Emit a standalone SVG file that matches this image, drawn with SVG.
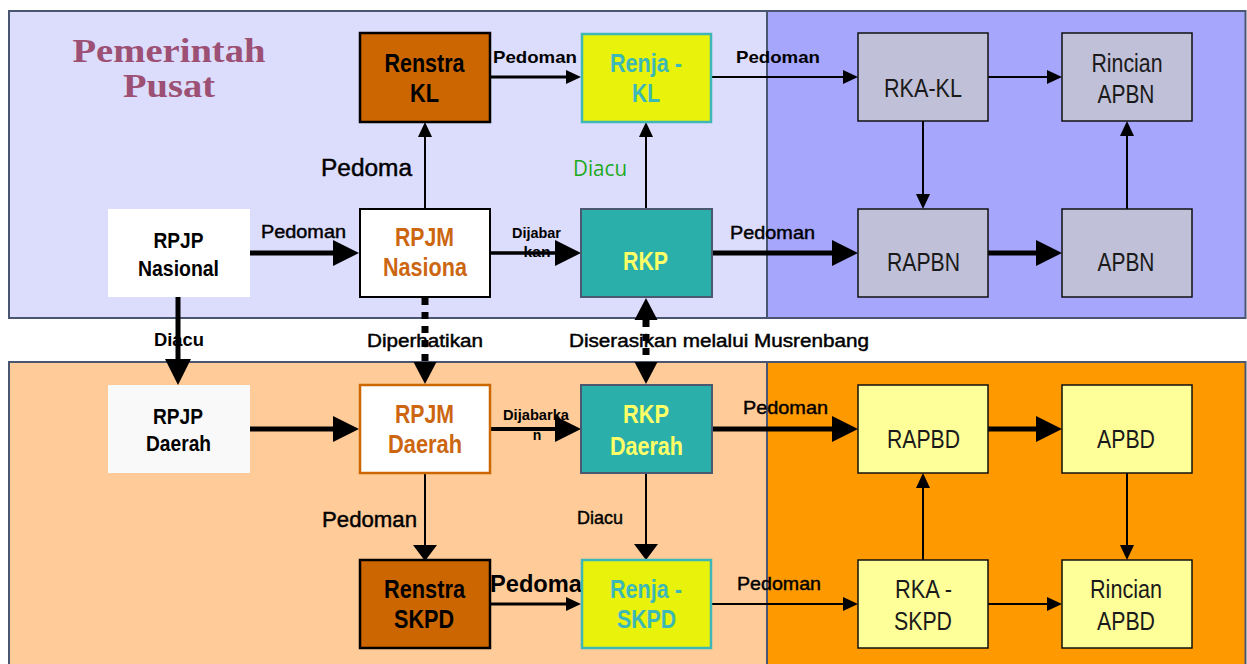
<svg xmlns="http://www.w3.org/2000/svg" width="1247" height="664" viewBox="0 0 1247 664">
<style>
.panel{stroke:#4A5670;stroke-width:2}
.t{font-family:"Liberation Sans",Arial,sans-serif;text-anchor:middle}
.nb{font-size:25px;font-weight:bold}
.nn{font-size:25px;fill:#1a1a1a}
.lb{font-family:"Liberation Sans",Arial,sans-serif;text-anchor:middle;font-weight:bold;fill:#000}
.lm{font-family:"Liberation Sans",Arial,sans-serif;text-anchor:middle;fill:#000;stroke:#000;stroke-width:0.45}
.gray{fill:#C0C0D8;stroke:#111;stroke-width:1.5}
.yel{fill:#FFFF99;stroke:#111;stroke-width:1.5}
.renstra{fill:#CC6600;stroke:#000;stroke-width:2.5}
.renja{fill:#E8F20A;stroke:#3FB7B7;stroke-width:2.5}
.teal{fill:#2BAFAB;stroke:#4A5870;stroke-width:2}
.c{fill:none;stroke:#000}
</style>
<defs>
<marker id="hb" markerUnits="userSpaceOnUse" markerWidth="26" markerHeight="26" refX="0" refY="13" orient="auto" overflow="visible"><path d="M0,0 L26,13 L0,26 Z" fill="#000"/></marker>
<marker id="hs" markerUnits="userSpaceOnUse" markerWidth="15" markerHeight="14" refX="0" refY="7" orient="auto" overflow="visible"><path d="M0,0 L15,7 L0,14 Z" fill="#000"/></marker>
<marker id="hw" markerUnits="userSpaceOnUse" markerWidth="16" markerHeight="24" refX="0" refY="12" orient="auto" overflow="visible"><path d="M0,0 L16,12 L0,24 Z" fill="#000"/></marker>
<marker id="hd" markerUnits="userSpaceOnUse" markerWidth="22" markerHeight="23" refX="0" refY="11.5" orient="auto-start-reverse" overflow="visible"><path d="M0,0 L22,11.5 L0,23 Z" fill="#000"/></marker>
</defs>
<rect width="1247" height="664" fill="#fff"/>
<g id="panels">
<rect class="panel" x="9" y="11" width="758" height="307" fill="#DCDCFC"/>
<rect class="panel" x="767" y="11" width="478.5" height="307" fill="#A6A6FC"/>
<rect class="panel" x="9" y="362" width="758" height="320" fill="#FFCC99"/>
<rect class="panel" x="767" y="362" width="478.5" height="320" fill="#FF9900"/>
</g>
<g id="title">
<text x="169" y="62" font-family="Liberation Serif,serif" font-weight="bold" font-size="33" fill="#9C5074" text-anchor="middle" textLength="193" lengthAdjust="spacingAndGlyphs">Pemerintah</text>
<text x="169" y="97" font-family="Liberation Serif,serif" font-weight="bold" font-size="33" fill="#9C5074" text-anchor="middle" textLength="92" lengthAdjust="spacingAndGlyphs">Pusat</text>
</g>
<g id="labels">
<text class="lb" x="535" y="63" font-size="17" textLength="84" lengthAdjust="spacingAndGlyphs">Pedoman</text>
<text class="lb" x="778" y="63" font-size="17" textLength="84" lengthAdjust="spacingAndGlyphs">Pedoman</text>
<text class="lm" x="366.5" y="176" font-size="23" textLength="91" lengthAdjust="spacingAndGlyphs">Pedoma</text>
<text x="600" y="176" font-family="Open Sans,sans-serif" font-size="21" fill="#1DAA1D" text-anchor="middle" textLength="54" lengthAdjust="spacingAndGlyphs">Diacu</text>
<text class="lm" x="303.5" y="238" font-size="18" textLength="85" lengthAdjust="spacingAndGlyphs">Pedoman</text>
<text class="lm" x="772.5" y="239" font-size="19" textLength="85" lengthAdjust="spacingAndGlyphs">Pedoman</text>
<text class="lb" x="536.5" y="238" font-size="14" textLength="49" lengthAdjust="spacingAndGlyphs">Dijabar</text>
<text class="lb" x="537" y="257" font-size="14" textLength="27" lengthAdjust="spacingAndGlyphs">kan</text>
<text class="lb" x="179" y="346" font-size="18" textLength="50" lengthAdjust="spacingAndGlyphs">Diacu</text>
<text class="lm" x="425" y="347" font-size="18" textLength="116" lengthAdjust="spacingAndGlyphs">Diperhatikan</text>
<text class="lm" x="719" y="347" font-size="18" textLength="300" lengthAdjust="spacingAndGlyphs">Diserasikan melalui Musrenbang</text>
<text class="lb" x="536" y="420" font-size="14" textLength="66" lengthAdjust="spacingAndGlyphs">Dijabarka</text>
<text class="lb" x="537" y="440" font-size="14">n</text>
<text class="lm" x="785.5" y="414" font-size="19" textLength="85" lengthAdjust="spacingAndGlyphs">Pedoman</text>
<text class="lm" x="600" y="524" font-size="19" textLength="46" lengthAdjust="spacingAndGlyphs">Diacu</text>
<text class="lm" x="369.5" y="527" font-size="22" textLength="95" lengthAdjust="spacingAndGlyphs">Pedoman</text>
<text class="lb" x="536" y="592" font-size="23" textLength="92" lengthAdjust="spacingAndGlyphs">Pedoma</text>
<text class="lm" x="779" y="590" font-size="19" textLength="84" lengthAdjust="spacingAndGlyphs">Pedoman</text>
</g>
<g id="connectors">
<path class="c" d="M490,77 H566" stroke-width="3" marker-end="url(#hs)"/>
<path class="c" d="M711,77 H843" stroke-width="2" marker-end="url(#hs)"/>
<path class="c" d="M988,77 H1047" stroke-width="2" marker-end="url(#hs)"/>
<path class="c" d="M923,121 V194" stroke-width="2" marker-end="url(#hs)"/>
<path class="c" d="M1127,209 V136" stroke-width="2" marker-end="url(#hs)"/>
<path class="c" d="M988,253 H1036" stroke-width="5" marker-end="url(#hb)"/>
<path class="c" d="M712,253 H832" stroke-width="5" marker-end="url(#hb)"/>
<path class="c" d="M250,253 H333" stroke-width="5" marker-end="url(#hb)"/>
<path class="c" d="M490,253 H555" stroke-width="3.5" marker-end="url(#hb)"/>
<path class="c" d="M425,209 V137" stroke-width="2" marker-end="url(#hs)"/>
<path class="c" d="M646,209 V137" stroke-width="2" marker-end="url(#hs)"/>
<path class="c" d="M178,297 V359" stroke-width="5" marker-end="url(#hb)"/>
<path class="c" d="M425,298 V362" stroke-width="7" stroke-dasharray="7 7" marker-end="url(#hd)"/>
<path class="c" d="M646,320 V362" stroke-width="7" stroke-dasharray="7 7" marker-start="url(#hd)" marker-end="url(#hd)"/>
<path class="c" d="M250,429 H333" stroke-width="5" marker-end="url(#hb)"/>
<path class="c" d="M490,429 H555" stroke-width="4" marker-end="url(#hb)"/>
<path class="c" d="M712,429 H832" stroke-width="5" marker-end="url(#hb)"/>
<path class="c" d="M988,429 H1036" stroke-width="5" marker-end="url(#hb)"/>
<path class="c" d="M425,473 V545" stroke-width="2" marker-end="url(#hw)"/>
<path class="c" d="M646,473 V544" stroke-width="2" marker-end="url(#hw)"/>
<path class="c" d="M490,604 H566" stroke-width="3" marker-end="url(#hs)"/>
<path class="c" d="M711,604 H843" stroke-width="2" marker-end="url(#hs)"/>
<path class="c" d="M923,560 V488" stroke-width="2" marker-end="url(#hs)"/>
<path class="c" d="M988,604 H1047" stroke-width="2" marker-end="url(#hs)"/>
<path class="c" d="M1127,473 V545" stroke-width="2" marker-end="url(#hs)"/>
</g>
<g id="renstra_kl">
<rect class="renstra" x="360" y="33" width="130" height="89"/>
<text class="t nb" x="424.5" y="72" textLength="80" lengthAdjust="spacingAndGlyphs">Renstra</text>
<text class="t nb" x="424.5" y="102" textLength="29" lengthAdjust="spacingAndGlyphs">KL</text>
</g>
<g id="renja_kl">
<rect class="renja" x="582" y="34" width="129" height="88"/>
<text class="t nb" x="646" y="72" fill="#3DB8B8" textLength="72" lengthAdjust="spacingAndGlyphs">Renja -</text>
<text class="t nb" x="646" y="102" fill="#3DB8B8" textLength="28" lengthAdjust="spacingAndGlyphs">KL</text>
</g>
<g id="rka_kl">
<rect class="gray" x="858" y="33" width="130" height="88"/>
<text class="t nn" x="923" y="97" textLength="78" lengthAdjust="spacingAndGlyphs">RKA-KL</text>
</g>
<g id="rincian_apbn">
<rect class="gray" x="1062" y="33" width="130" height="88"/>
<text class="t nn" x="1127" y="72" textLength="71" lengthAdjust="spacingAndGlyphs">Rincian</text>
<text class="t nn" x="1126" y="103" textLength="57" lengthAdjust="spacingAndGlyphs">APBN</text>
</g>
<g id="rapbn">
<rect class="gray" x="858" y="209" width="130" height="88"/>
<text class="t nn" x="923.5" y="271" textLength="73" lengthAdjust="spacingAndGlyphs">RAPBN</text>
</g>
<g id="apbn">
<rect class="gray" x="1062" y="209" width="130" height="88"/>
<text class="t nn" x="1126" y="271" textLength="57" lengthAdjust="spacingAndGlyphs">APBN</text>
</g>
<g id="rpjp_nasional">
<rect x="108" y="209" width="142" height="88" fill="#fff"/>
<text class="t" x="178.5" y="248" font-size="22" font-weight="bold" textLength="50" lengthAdjust="spacingAndGlyphs">RPJP</text>
<text class="t" x="178.5" y="276" font-size="22" font-weight="bold" textLength="81" lengthAdjust="spacingAndGlyphs">Nasional</text>
</g>
<g id="rpjm_nasional">
<rect x="360" y="209" width="130" height="88" fill="#fff" stroke="#000" stroke-width="2"/>
<text class="t nb" x="424.5" y="246" fill="#CC6611" textLength="59" lengthAdjust="spacingAndGlyphs">RPJM</text>
<text class="t nb" x="425" y="276" fill="#CC6611" textLength="84" lengthAdjust="spacingAndGlyphs">Nasiona</text>
</g>
<g id="rkp">
<rect class="teal" x="581" y="209" width="131" height="88"/>
<text class="t nb" x="645.5" y="270" fill="#FFFF66" textLength="45" lengthAdjust="spacingAndGlyphs">RKP</text>
</g>
<g id="rpjp_daerah">
<rect x="108" y="385" width="142" height="88" fill="#F9F9F9"/>
<text class="t" x="178" y="424" font-size="22" font-weight="bold" textLength="50" lengthAdjust="spacingAndGlyphs">RPJP</text>
<text class="t" x="178.5" y="451" font-size="22" font-weight="bold" textLength="65" lengthAdjust="spacingAndGlyphs">Daerah</text>
</g>
<g id="rpjm_daerah">
<rect x="360" y="385" width="130" height="88" fill="#fff" stroke="#CC6600" stroke-width="2.5"/>
<text class="t nb" x="424.5" y="423" fill="#CC6611" textLength="59" lengthAdjust="spacingAndGlyphs">RPJM</text>
<text class="t nb" x="425" y="453" fill="#CC6611" textLength="74" lengthAdjust="spacingAndGlyphs">Daerah</text>
</g>
<g id="rkp_daerah">
<rect class="teal" x="581" y="385" width="131" height="88"/>
<text class="t nb" x="646" y="423" fill="#FFFF66" textLength="46" lengthAdjust="spacingAndGlyphs">RKP</text>
<text class="t nb" x="646.5" y="455" fill="#FFFF66" textLength="73" lengthAdjust="spacingAndGlyphs">Daerah</text>
</g>
<g id="renstra_skpd">
<rect class="renstra" x="360" y="560" width="130" height="88"/>
<text class="t nb" x="424.5" y="598" textLength="81" lengthAdjust="spacingAndGlyphs">Renstra</text>
<text class="t nb" x="424" y="628" textLength="60" lengthAdjust="spacingAndGlyphs">SKPD</text>
</g>
<g id="renja_skpd">
<rect class="renja" x="582" y="560" width="129" height="88"/>
<text class="t nb" x="646" y="598" fill="#3DB8B8" textLength="72" lengthAdjust="spacingAndGlyphs">Renja -</text>
<text class="t nb" x="646.5" y="628" fill="#3DB8B8" textLength="59" lengthAdjust="spacingAndGlyphs">SKPD</text>
</g>
<g id="rapbd">
<rect class="yel" x="858" y="385" width="130" height="88"/>
<text class="t nn" x="923.5" y="448" textLength="73" lengthAdjust="spacingAndGlyphs">RAPBD</text>
</g>
<g id="apbd">
<rect class="yel" x="1062" y="385" width="130" height="88"/>
<text class="t nn" x="1126" y="448" textLength="58" lengthAdjust="spacingAndGlyphs">APBD</text>
</g>
<g id="rka_skpd">
<rect class="yel" x="858" y="560" width="130" height="88"/>
<text class="t nn" x="923.5" y="598" textLength="57" lengthAdjust="spacingAndGlyphs">RKA -</text>
<text class="t nn" x="923" y="630" textLength="58" lengthAdjust="spacingAndGlyphs">SKPD</text>
</g>
<g id="rincian_apbd">
<rect class="yel" x="1062" y="560" width="130" height="88"/>
<text class="t nn" x="1126" y="598" textLength="72" lengthAdjust="spacingAndGlyphs">Rincian</text>
<text class="t nn" x="1126" y="630" textLength="58" lengthAdjust="spacingAndGlyphs">APBD</text>
</g>
</svg>
